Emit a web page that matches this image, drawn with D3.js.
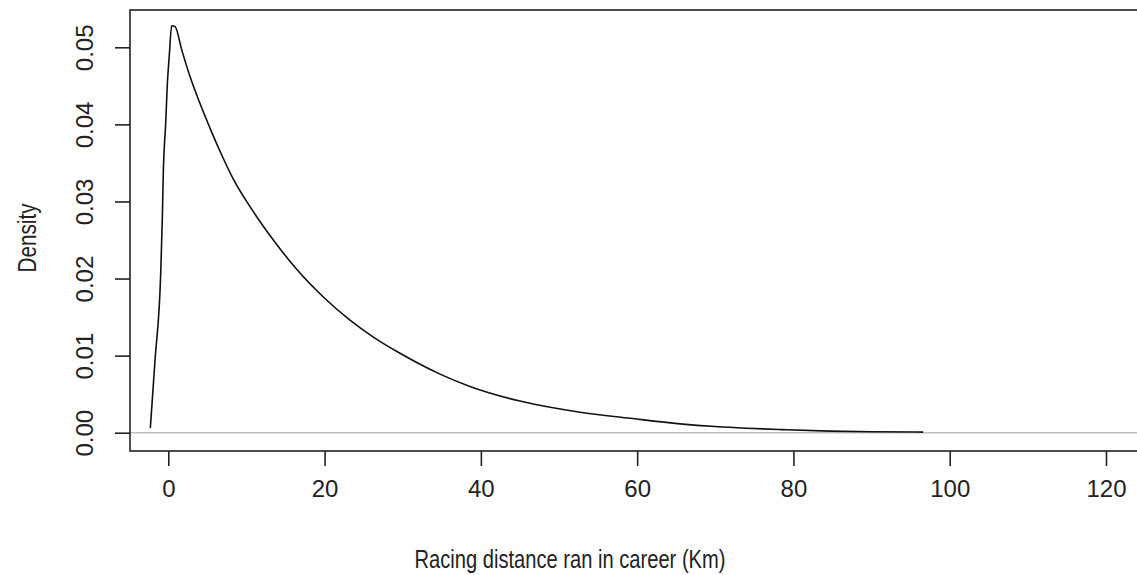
<!DOCTYPE html>
<html>
<head>
<meta charset="utf-8">
<script src="https://cdn.jsdelivr.net/npm/d3@7"></script>
<style>
  html, body { margin: 0; padding: 0; background: #fff; }
  svg { display: block; }
  text { font-family: "Liberation Sans", Arial, sans-serif; fill: #222; }
</style>
</head>
<body>
<svg id="chart" width="1137" height="575"></svg>
<script>
// Kernel density estimate of career racing distance (km)
const distance = [-2.3, -1.7, -0.97, -0.77, -0.64, -0.33, -0.13, 0.13, 0.43, 0.86, 1.71, 2.78,
  4.06, 5.55, 6.49, 8.32, 10.67, 13.44, 16.43, 19.84, 23.25, 26.24, 29.65, 34.77, 38.6,
  45.0, 52.7, 59.1, 65.5, 70, 74, 78.5, 84.7, 90, 96.6];
const density = [0.0006, 0.0094, 0.0207, 0.0276, 0.0337, 0.0402, 0.0451, 0.049, 0.0528, 0.0527,
  0.0497, 0.0462, 0.0427, 0.0390, 0.0368, 0.0329, 0.0290, 0.0250, 0.0212, 0.0176, 0.0146,
  0.0124, 0.0103, 0.0076, 0.0060, 0.0041, 0.00265, 0.00187, 0.00115, 0.00080, 0.00058,
  0.00040, 0.00020, 0.00012, 0.00008];

const xTicks = [0, 20, 40, 60, 80, 100, 120];
const yTicks = [0, 0.01, 0.02, 0.03, 0.04, 0.05];
const xTitle = "Racing distance ran in career (Km)";
const yTitle = "Density";

const svg = d3.select("#chart");
const box = { left: 130, top: 10, right: 1140, bottom: 451 };

const x = d3.scaleLinear().domain([0, 120]).range([168.3, 1106]);
const y = d3.scaleLinear().domain([0, 0.05]).range([432.7, 47.3]);

// zero reference line
svg.append("line")
  .attr("x1", box.left).attr("x2", box.right)
  .attr("y1", y(0)).attr("y2", y(0))
  .attr("stroke", "#bebebe").attr("stroke-width", 1.5);

// density curve
const pts = distance.map((d, i) => [d, density[i]]);
svg.append("path")
  .datum(pts)
  .attr("fill", "none")
  .attr("stroke", "#111")
  .attr("stroke-width", 1.6)
  .attr("d", d3.line().x(d => x(d[0])).y(d => y(d[1])).curve(d3.curveMonotoneX));

// plot frame
svg.append("rect")
  .attr("x", box.left).attr("y", box.top)
  .attr("width", box.right - box.left).attr("height", box.bottom - box.top)
  .attr("fill", "none").attr("stroke", "#222").attr("stroke-width", 1.6);

// bottom axis
const xAxis = svg.append("g").attr("transform", `translate(0,${box.bottom})`)
  .call(d3.axisBottom(x).tickValues(xTicks).tickSize(15).tickPadding(14).tickFormat(d3.format("d")));
xAxis.select(".domain").remove();
xAxis.selectAll(".tick line").attr("stroke", "#222").attr("stroke-width", 1.6);
xAxis.selectAll(".tick text").attr("font-size", 24).attr("fill", "#222")
  .attr("font-family", "Liberation Sans, Arial, sans-serif");

// left axis with rotated labels
const yAxis = svg.append("g").attr("transform", `translate(${box.left},0)`)
  .call(d3.axisLeft(y).tickValues(yTicks).tickSize(15).tickFormat(d3.format(".2f")));
yAxis.select(".domain").remove();
yAxis.selectAll(".tick line").attr("stroke", "#222").attr("stroke-width", 1.6);
yAxis.selectAll(".tick text")
  .attr("font-size", 24).attr("fill", "#222")
  .attr("font-family", "Liberation Sans, Arial, sans-serif")
  .attr("x", null).attr("dy", null)
  .attr("text-anchor", "middle")
  .attr("dominant-baseline", "central")
  .attr("transform", "translate(-46,0) rotate(-90)");

// axis titles
svg.append("text")
  .attr("x", 570).attr("y", 559)
  .attr("text-anchor", "middle").attr("dominant-baseline", "central")
  .attr("font-size", 25)
  .attr("textLength", 311).attr("lengthAdjust", "spacingAndGlyphs")
  .text(xTitle);

svg.append("text")
  .attr("transform", "translate(27,238) rotate(-90)")
  .attr("text-anchor", "middle").attr("dominant-baseline", "central")
  .attr("font-size", 25)
  .attr("textLength", 69).attr("lengthAdjust", "spacingAndGlyphs")
  .text(yTitle);
</script>
</body>
</html>
